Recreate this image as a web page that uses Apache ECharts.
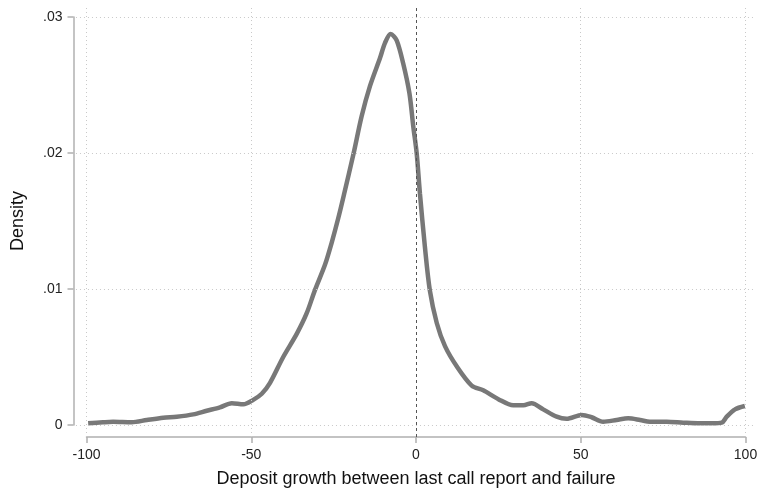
<!DOCTYPE html>
<html>
<head>
<meta charset="utf-8">
<script src="https://cdn.jsdelivr.net/npm/echarts@6/dist/echarts.min.js"></script>
<style>
  html, body { margin: 0; padding: 0; background: #fff; }
  #chart { width: 759px; height: 489px; }
</style>
</head>
<body>
<div id="chart"></div>
<script>
// ---- data ----
const growth = [-99.5, -95, -91.9, -86.3, -81.7, -76.7, -72.6, -67.6, -63.5, -59.5, -55.9, -52.4, -49.4, -46.8, -44.3,
  -40.3, -36.2, -33.2, -30.7, -27.6, -25.6, -23.6, -21.8, -19.0, -16.5, -14.0, -10.9, -9.4, -7.7, -5.9, -3.9, -2.0,
  -0.8, 0.2, 1.2, 2.7, 4.2, 6.3, 8.8, 12.4, 16.9, 20.4, 25.0, 29.5, 32.6, 35.1, 38.6, 42.7, 45.7, 50.3, 53.3, 56.8,
  60.9, 64.4, 68.0, 71.0, 76.1, 81.1, 86.2, 90.0, 92.8, 94.3, 96.8, 99.8];
const density = [0.00012, 0.0002, 0.00024, 0.0002, 0.00037, 0.00054, 0.00061, 0.00078, 0.00105, 0.0013, 0.0016, 0.00152,
  0.00185, 0.0023, 0.0031, 0.0050, 0.0067, 0.0082, 0.0099, 0.0118, 0.0134, 0.0152, 0.0170, 0.0199, 0.0227, 0.0249,
  0.0270, 0.0281, 0.02875, 0.0283, 0.0266, 0.0244, 0.0219, 0.0200, 0.0170, 0.0131, 0.0099, 0.0075, 0.0058, 0.0043,
  0.0029, 0.00255, 0.0019, 0.00145, 0.00145, 0.0016, 0.00115, 0.00061, 0.00046, 0.00074, 0.00057, 0.00024, 0.00037,
  0.00049, 0.00037, 0.00024, 0.00024, 0.00017, 0.00012, 0.00012, 0.00017, 0.00061, 0.00115, 0.0014];
const xTicks = [-100, -50, 0, 50, 100];
const yTicks = [0, 0.01, 0.02, 0.03];
const yTickLabels = ['0', '.01', '.02', '.03'];
const xTitle = 'Deposit growth between last call report and failure';
const yTitle = 'Density';
const refLine = 0;

// ---- plot region (background) extents ----
const bgX = [-104.1, 102.9];
const bgY = [-0.000882, 0.030735];

const lineData = growth.map((g, i) => [g, density[i]]);

const gridStyle = { color: '#c9c9c9', width: 1, type: [1, 3] };
const gridLines = [];
yTicks.forEach(v => gridLines.push([{ coord: [-103.2, v], lineStyle: gridStyle }, { coord: [bgX[1], v] }]));
xTicks.forEach(v => {
  if (v === refLine) return;
  gridLines.push([{ coord: [v, bgY[0]], lineStyle: gridStyle }, { coord: [v, bgY[1]] }]);
});
gridLines.push([{ coord: [refLine, bgY[0]], lineStyle: { color: '#555', width: 1, type: [3, 3] } }, { coord: [refLine, bgY[1]] }]);

const font = 'Liberation Sans, Arial, Helvetica, sans-serif';

const chart = echarts.init(document.getElementById('chart'), null, { renderer: 'canvas' });
chart.setOption({
  animation: false,
  backgroundColor: '#fff',
  grid: [
    { left: 86.5, right: 13.5, top: 17, bottom: 64, containLabel: false, outerBoundsMode: 'none' },
    { left: 73, right: 4, top: 7, bottom: 52, containLabel: false, outerBoundsMode: 'none' }
  ],
  xAxis: [
    {
      type: 'value', gridIndex: 0, min: -100, max: 100, interval: 50, offset: 12, position: 'bottom',
      axisLine: { show: true, onZero: false, lineStyle: { color: '#b0b0b0', width: 1.5 } },
      axisTick: { show: true, length: 6, lineStyle: { color: '#b0b0b0', width: 1.5 } },
      axisLabel: { color: '#222', fontSize: 14, fontFamily: font, margin: 11 },
      splitLine: { show: false },
      name: xTitle, nameLocation: 'middle', nameGap: 33,
      nameTextStyle: { color: '#111', fontSize: 18, fontFamily: font }
    },
    {
      type: 'value', gridIndex: 1, min: bgX[0], max: bgX[1], show: false
    }
  ],
  yAxis: [
    {
      type: 'value', gridIndex: 0, min: 0, max: 0.03, interval: 0.01, offset: 13, position: 'left',
      axisLine: { show: true, onZero: false, lineStyle: { color: '#b0b0b0', width: 1.5 } },
      axisTick: { show: true, length: 6, lineStyle: { color: '#b0b0b0', width: 1.5 } },
      axisLabel: {
        color: '#222', fontSize: 14, fontFamily: font, margin: 11,
        formatter: v => {
          const i = yTicks.findIndex(t => Math.abs(t - v) < 1e-9);
          return i >= 0 ? yTickLabels[i] : '';
        }
      },
      splitLine: { show: false },
      name: yTitle, nameLocation: 'middle', nameGap: 46, nameRotate: 90,
      nameTextStyle: { color: '#111', fontSize: 18, fontFamily: font }
    },
    {
      type: 'value', gridIndex: 1, min: bgY[0], max: bgY[1], show: false
    }
  ],
  series: [
    {
      type: 'line', xAxisIndex: 1, yAxisIndex: 1, data: [], z: 1, silent: true,
      markLine: { silent: true, symbol: ['none', 'none'], label: { show: false }, animation: false, data: gridLines }
    },
    {
      type: 'line', xAxisIndex: 0, yAxisIndex: 0, data: lineData, z: 3,
      showSymbol: false, smooth: 0.3, clip: false,
      lineStyle: { color: '#787878', width: 4.5 }
    }
  ]
});
</script>
</body>
</html>
